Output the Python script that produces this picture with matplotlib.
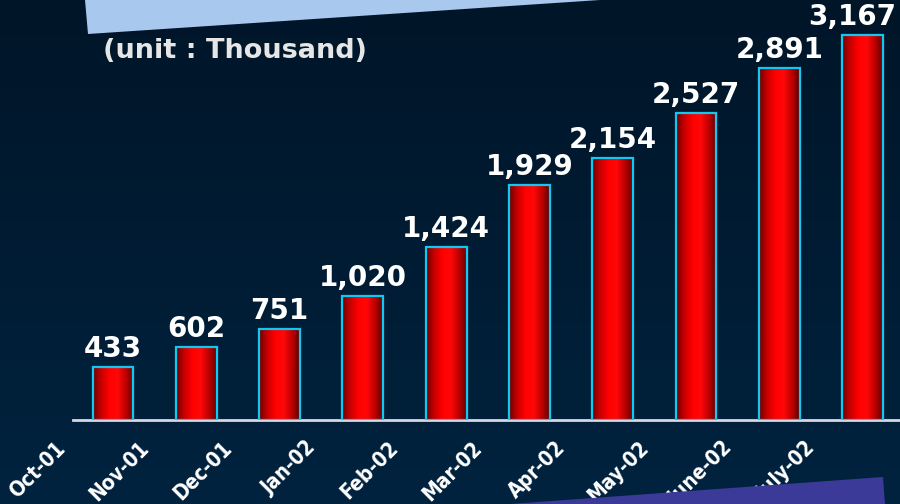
import numpy as np
import matplotlib
matplotlib.use("Agg")
import matplotlib.pyplot as plt
from matplotlib.patches import Polygon
from matplotlib.colors import LinearSegmentedColormap

months = ["Oct-01", "Nov-01", "Dec-01", "Jan-02", "Feb-02", "Mar-02",
          "Apr-02", "May-02", "June-02", "July-02"]
values = [433, 602, 751, 1020, 1424, 1929, 2154, 2527, 2891, 3167]
unit_text = "(unit : Thousand)"

W, H = 900, 504
fig = plt.figure(figsize=(W / 100, H / 100), dpi=100)

# background gradient
bg = fig.add_axes([0, 0, 1, 1])
bg.set_axis_off()
bg_cmap = LinearSegmentedColormap.from_list("bg", ["#001528", "#00233f"])
bg.imshow(np.linspace(0, 1, 256).reshape(-1, 1), aspect="auto", cmap=bg_cmap,
          extent=[0, 1, 0, 1], zorder=0)
bg.set_xlim(0, 1)
bg.set_ylim(0, 1)

def px(x, y):
    return (x / W, 1 - y / H)

# decorative top band
bg.add_patch(Polygon([px(85, 0), px(88, 34), px(600, 0)], closed=True,
                     facecolor="#a8c8ee", edgecolor="none", zorder=1))

ax = fig.add_axes([0, (H - 420) / H, 1, 420 / H])
ax.set_facecolor("none")
x = np.arange(len(values))
bars = ax.bar(x, values, width=0.49, facecolor="none", edgecolor="#10c8f0",
              linewidth=1.6, zorder=3)

red_cmap = LinearSegmentedColormap.from_list(
    "red", ["#6a0000", "#c80000", "#ff0000", "#ff0808", "#c00000", "#5a0000"])
grad = np.linspace(0, 1, 256).reshape(1, -1)
for b in bars:
    x0, w, h = b.get_x(), b.get_width(), b.get_height()
    ax.imshow(grad, aspect="auto", cmap=red_cmap, extent=[x0, x0 + w, 0, h],
              zorder=2, interpolation="bicubic")

n = len(values)
for i, (b, v) in enumerate(zip(bars, values)):
    last = i == n - 1
    ax.annotate(f"{v:,}", (b.get_x() + b.get_width() / 2, b.get_height()),
                xytext=(24 if last else 0, 3), textcoords="offset points",
                ha="right" if last else "center",
                va="bottom", color="white", fontsize=20, fontweight="bold",
                family="DejaVu Sans", zorder=5)

ax.set_yticks([])
ax.set_xticks(x - 0.61)
ax.set_xticklabels(months, rotation=45, ha="right", va="center",
                   rotation_mode="anchor", color="white", fontsize=15,
                   fontweight="bold", fontstretch="condensed",
                   family="DejaVu Sans")
ax.tick_params(axis="x", length=0, pad=18)
ax.set_xlim(-1.357, 9.45)
ax.set_ylim(0, 3454)
for s in ["top", "right", "left"]:
    ax.spines[s].set_visible(False)
ax.spines["bottom"].set_color("#d8d8e0")
ax.spines["bottom"].set_linewidth(2)
ax.spines["bottom"].set_bounds(-0.48, 9.45)

fig.text(103 / W, 1 - 51 / H, unit_text, color="#e6e6e6", fontsize=19.5,
         fontweight="bold", family="DejaVu Sans", ha="left", va="center")

# decorative bottom band (drawn over labels)
ov = fig.add_axes([0, 0, 1, 1])
ov.set_axis_off()
ov.set_xlim(0, 1)
ov.set_ylim(0, 1)
ov.patch.set_alpha(0)
ov.add_patch(Polygon([px(510, 504), px(883, 477), px(885, 504)], closed=True,
                     facecolor="#3b3a98", edgecolor="none", zorder=10))

fig.savefig("out.png", dpi=100)
